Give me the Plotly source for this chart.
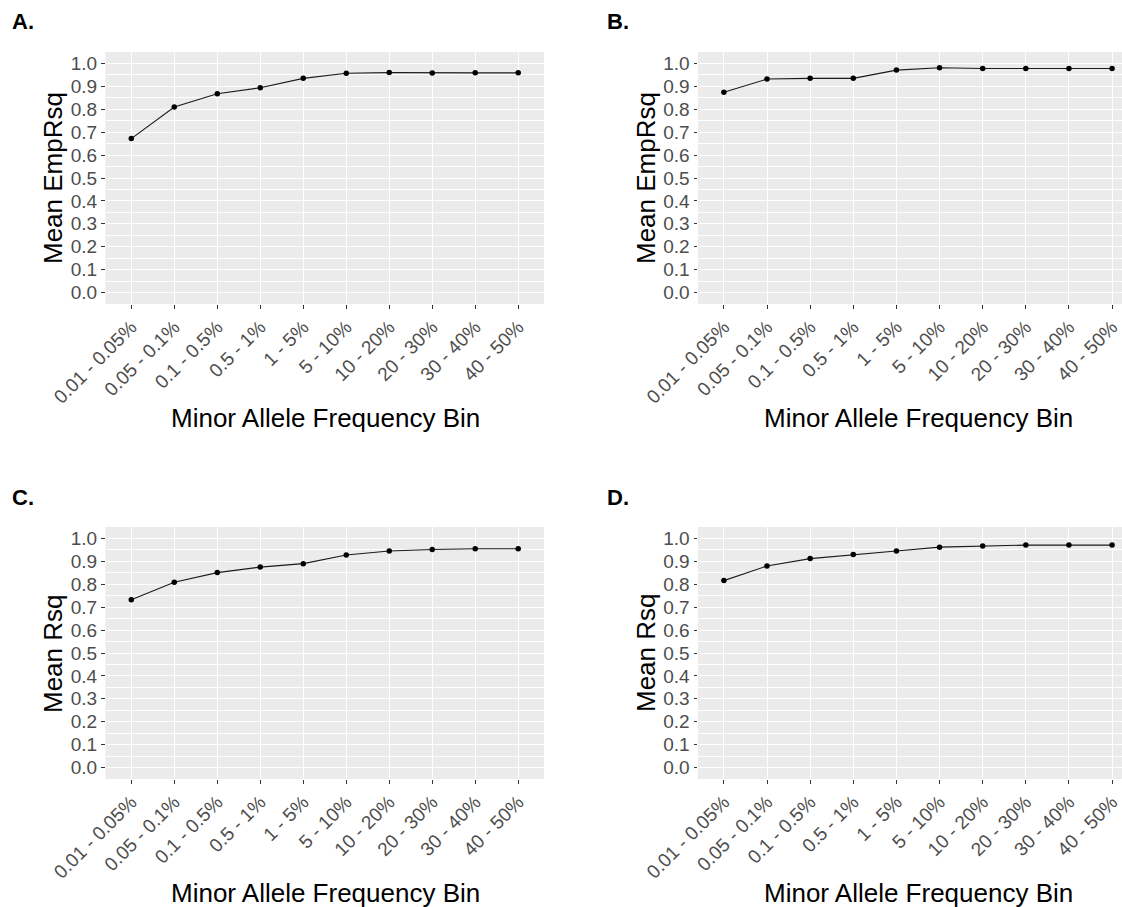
import plotly.graph_objects as go

W, H = 1122, 907

categories = ["0.01 - 0.05%", "0.05 - 0.1%", "0.1 - 0.5%", "0.5 - 1%", "1 - 5%",
              "5 - 10%", "10 - 20%", "20 - 30%", "30 - 40%", "40 - 50%"]

empRsq_A = [0.672, 0.810, 0.868, 0.894, 0.935, 0.957, 0.960, 0.958, 0.959, 0.959]
empRsq_B = [0.874, 0.932, 0.935, 0.935, 0.971, 0.981, 0.978, 0.978, 0.978, 0.978]
rsq_C = [0.732, 0.809, 0.851, 0.875, 0.890, 0.928, 0.945, 0.952, 0.955, 0.955]
rsq_D = [0.816, 0.880, 0.912, 0.930, 0.945, 0.962, 0.967, 0.971, 0.971, 0.971]

panel_letters = ["A.", "B.", "C.", "D."]
y_titles = ["Mean EmpRsq", "Mean EmpRsq", "Mean Rsq", "Mean Rsq"]
x_title = "Minor Allele Frequency Bin"
y_tickvals = [0.0, 0.1, 0.2, 0.3, 0.4, 0.5, 0.6, 0.7, 0.8, 0.9, 1.0]
y_minorvals = [-0.05, 0.05, 0.15, 0.25, 0.35, 0.45, 0.55, 0.65, 0.75, 0.85, 0.95, 1.05]

series = [empRsq_A, empRsq_B, rsq_C, rsq_D]

# layout geometry (pixels)
panels = [
    dict(x0=105.5, x1=544, y0=52, y1=304, xr=9.6, letter=(10, 22), ytitle=(53, 178), xtitle=(325, 418)),
    dict(x0=698, x1=1122, y0=52, y1=304, xr=9.23, letter=(605, 22), ytitle=(646, 178), xtitle=(918, 418)),
    dict(x0=105.5, x1=544, y0=527, y1=779, xr=9.6, letter=(10, 497), ytitle=(53, 653), xtitle=(325, 893)),
    dict(x0=698, x1=1122, y0=527, y1=779, xr=9.23, letter=(605, 497), ytitle=(646, 653), xtitle=(918, 893)),
]

FONT = "Liberation Sans, Arial, sans-serif"

fig = go.Figure()
annotations = []
layout = {}
for i, (vals, p) in enumerate(zip(series, panels)):
    n = "" if i == 0 else str(i + 1)
    fig.add_trace(go.Scatter(
        x=categories, y=vals, mode="lines+markers",
        line=dict(color="#1a1a1a", width=1.1),
        marker=dict(color="black", size=5.5),
        xaxis="x" + n, yaxis="y" + n, showlegend=False,
        cliponaxis=False,
    ))
    layout["xaxis" + n] = dict(
        domain=[p["x0"] / W, min(p["x1"] / W, 1.0)],
        anchor="y" + n,
        type="category",
        range=[-0.6, p["xr"]],
        automargin=False,
        showgrid=True, gridcolor="white", gridwidth=1.1,
        zeroline=False, showline=False,
        ticks="outside", ticklen=3.5, tickwidth=1, tickcolor="#333333",
        tickangle=-45,
        tickfont=dict(family=FONT, size=19, color="#4D4D4D"),
    )
    layout["yaxis" + n] = dict(
        domain=[1 - p["y1"] / H, 1 - p["y0"] / H],
        anchor="x" + n,
        range=[-0.05, 1.05],
        automargin=False,
        tickvals=y_tickvals,
        tickformat=".1f",
        showgrid=True, gridcolor="white", gridwidth=1.1,
        minor=dict(tickvals=y_minorvals, showgrid=True, gridcolor="white", gridwidth=0.55, ticks=""),
        zeroline=False, showline=False,
        ticks="outside", ticklen=3.5, tickwidth=1, tickcolor="#333333",
        tickfont=dict(family=FONT, size=19, color="#4D4D4D"),
    )
    lx, ly = p["letter"]
    annotations.append(dict(text="<b>%s</b>" % panel_letters[i], x=lx / W, y=1 - ly / H,
                            xref="paper", yref="paper", xanchor="left", yanchor="middle",
                            showarrow=False, font=dict(family=FONT, size=22, color="black")))
    tx, ty = p["ytitle"]
    annotations.append(dict(text=y_titles[i], x=tx / W, y=1 - ty / H, textangle=-90,
                            xref="paper", yref="paper", xanchor="center", yanchor="middle",
                            showarrow=False, font=dict(family=FONT, size=26, color="black")))
    tx, ty = p["xtitle"]
    annotations.append(dict(text=x_title, x=tx / W, y=1 - ty / H,
                            xref="paper", yref="paper", xanchor="center", yanchor="middle",
                            showarrow=False, font=dict(family=FONT, size=26, color="black")))

fig.update_layout(
    width=W, height=H,
    margin=dict(l=0, r=0, t=0, b=0, autoexpand=False),
    paper_bgcolor="white", plot_bgcolor="#EBEBEB",
    annotations=annotations,
    font=dict(family=FONT),
    **layout,
)

fig.write_html("out.html")
